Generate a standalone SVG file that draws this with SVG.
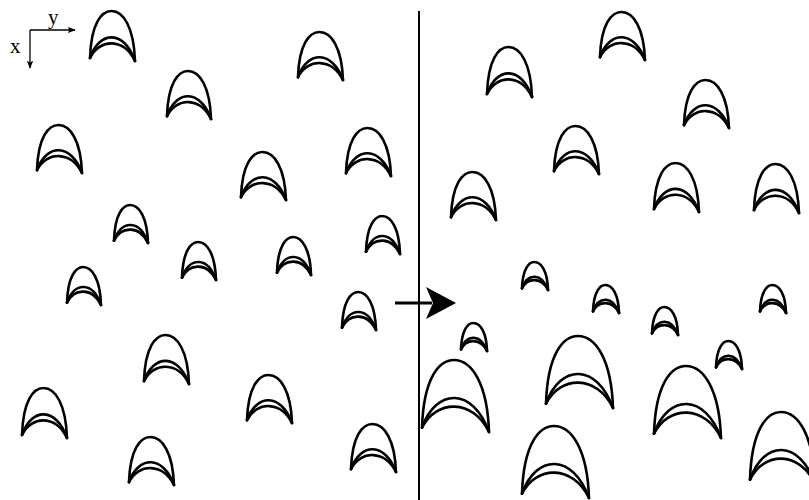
<svg xmlns="http://www.w3.org/2000/svg" xmlns:xlink="http://www.w3.org/1999/xlink" width="809" height="500" viewBox="0 0 809 500">
<style>
.cr path{fill:none;stroke:#000;stroke-width:2.6;stroke-linejoin:round;stroke-linecap:round;vector-effect:non-scaling-stroke}
.ax{stroke:#000;stroke-width:1.3;fill:none}
.lbl{font-family:"Liberation Serif",serif;font-size:21px;fill:#000}
</style>
<defs>
<g id="c" class="cr">
<path d="M0,47 C1,12 11,0 20,0 C31,0 41,16 42,50"/>
<path d="M0,47 C9,19 32,19 42,50"/>
<path d="M0,47 C9,27 32,27 42,50"/>
</g>
<marker id="ah" viewBox="0 0 10 10" refX="9" refY="5" markerWidth="8" markerHeight="8" markerUnits="userSpaceOnUse" orient="auto">
<path d="M0,1 L10,5 L0,9 L2,5 Z" fill="#000"/>
</marker>
</defs>
<rect width="809" height="500" fill="#fff"/>
<g id="axes">
<line class="ax" x1="30" y1="30" x2="75" y2="30" marker-end="url(#ah)"/>
<line class="ax" x1="30" y1="30" x2="30" y2="68" marker-end="url(#ah)"/>
<text class="lbl" x="48" y="24">y</text>
<text class="lbl" x="10" y="53">x</text>
</g>
<line id="divider" x1="419" y1="11" x2="419" y2="500" stroke="#000" stroke-width="2"/>
<g id="arrow">
<line x1="395" y1="303" x2="432" y2="303" stroke="#000" stroke-width="3"/>
<path d="M426,287 L456,303 L426,319 L433,303 Z" fill="#000"/>
</g>
<g id="left">
<use href="#c" transform="translate(90,11) scale(1.071,1)"/>
<use href="#c" transform="translate(298,32) scale(1.071,0.96)"/>
<use href="#c" transform="translate(167,71) scale(1.048,0.96)"/>
<use href="#c" transform="translate(37,125) scale(1.071,0.96)"/>
<use href="#c" transform="translate(241,152) scale(1.071,0.96)"/>
<use href="#c" transform="translate(346,128) scale(1.071,0.96)"/>
<use href="#c" transform="translate(114,205) scale(0.81,0.76)"/>
<use href="#c" transform="translate(182,242) scale(0.81,0.76)"/>
<use href="#c" transform="translate(277,237) scale(0.81,0.76)"/>
<use href="#c" transform="translate(366,216) scale(0.81,0.76)"/>
<use href="#c" transform="translate(67,267) scale(0.81,0.76)"/>
<use href="#c" transform="translate(342,292) scale(0.81,0.76)"/>
<use href="#c" transform="translate(144,335) scale(1.071,0.98)"/>
<use href="#c" transform="translate(22,388) scale(1.071,1)"/>
<use href="#c" transform="translate(247,375) scale(1.071,0.96)"/>
<use href="#c" transform="translate(129,437) scale(1.071,0.96)"/>
<use href="#c" transform="translate(351,424) scale(1.071,0.96)"/>
</g>
<g id="right">
<use href="#c" transform="translate(600,12) scale(1.071,0.96)"/>
<use href="#c" transform="translate(487,47) scale(1.071,1)"/>
<use href="#c" transform="translate(684,80) scale(1.071,0.96)"/>
<use href="#c" transform="translate(554,126) scale(1.071,0.96)"/>
<use href="#c" transform="translate(451,172) scale(1.071,0.96)"/>
<use href="#c" transform="translate(654,163) scale(1.071,0.98)"/>
<use href="#c" transform="translate(754,164) scale(1.071,0.98)"/>
<use href="#c" transform="translate(522,262) scale(0.62,0.56)"/>
<use href="#c" transform="translate(593,285) scale(0.62,0.56)"/>
<use href="#c" transform="translate(760,285) scale(0.62,0.56)"/>
<use href="#c" transform="translate(652,307) scale(0.62,0.56)"/>
<use href="#c" transform="translate(461,323) scale(0.62,0.56)"/>
<use href="#c" transform="translate(716,341) scale(0.62,0.56)"/>
<use href="#c" transform="translate(546,336) scale(1.595,1.44)"/>
<use href="#c" transform="translate(422,360) scale(1.595,1.44)"/>
<use href="#c" transform="translate(654,366) scale(1.595,1.44)"/>
<use href="#c" transform="translate(522,426) scale(1.595,1.44)"/>
<use href="#c" transform="translate(750,412) scale(1.55,1.44)"/>
</g>
</svg>
